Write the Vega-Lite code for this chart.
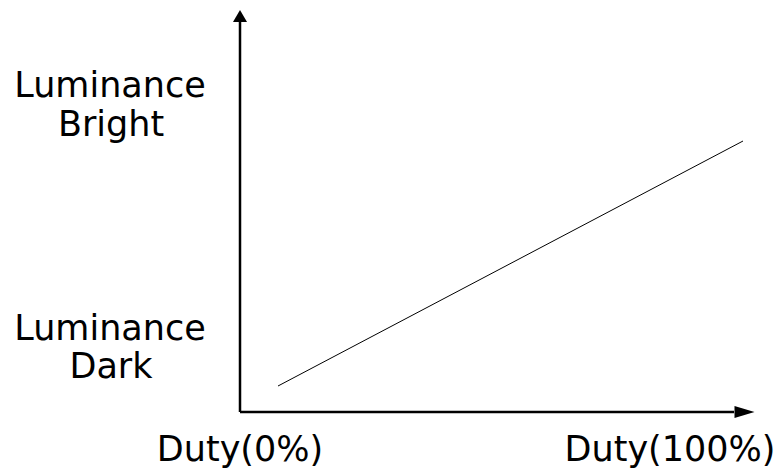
{
  "$schema": "https://vega.github.io/schema/vega-lite/v6.json",
  "width": 780,
  "height": 470,
  "padding": 0,
  "autosize": {"type": "fit", "contains": "padding"},
  "background": "white",
  "config": {"view": {"stroke": null}},
  "datasets": {
    "curve": [
      {"duty": 7.6, "lum": 6.5},
      {"duty": 100.6, "lum": 67.75}
    ],
    "axes": [
      {"x": 0, "y": 0, "x2": 98.8, "y2": 0},
      {"x": 0, "y": 0, "x2": 0, "y2": 97.5}
    ],
    "heads": [
      {"x": 100.9, "y": 0, "dir": "right"},
      {"x": 0, "y": 99, "dir": "up"}
    ],
    "labels": [
      {"x": -26, "y": 78.75, "text": "Luminance"},
      {"x": -25.8, "y": 69, "text": "Bright"},
      {"x": -26, "y": 18, "text": "Luminance"},
      {"x": -25.8, "y": 8.5, "text": "Dark"},
      {"x": 0, "y": -12.25, "text": "Duty(0%)"},
      {"x": 86, "y": -12.25, "text": "Duty(100%)"}
    ]
  },
  "layer": [
    {
      "data": {"name": "axes"},
      "mark": {"type": "rule", "color": "black", "strokeWidth": 2.5},
      "encoding": {
        "x": {"field": "x", "type": "quantitative", "scale": {"domain": [-48, 108], "nice": false, "zero": false}, "axis": null},
        "y": {"field": "y", "type": "quantitative", "scale": {"domain": [-14.5, 103], "nice": false, "zero": false}, "axis": null},
        "x2": {"field": "x2"},
        "y2": {"field": "y2"}
      }
    },
    {
      "data": {"name": "heads"},
      "transform": [{"filter": "datum.dir === 'right'"}],
      "mark": {"type": "point", "shape": "M-1,-0.6L1,0L-1,0.6Z", "size": 400, "filled": true, "color": "black", "opacity": 1},
      "encoding": {
        "x": {"field": "x", "type": "quantitative"},
        "y": {"field": "y", "type": "quantitative"}
      }
    },
    {
      "data": {"name": "heads"},
      "transform": [{"filter": "datum.dir === 'up'"}],
      "mark": {"type": "point", "shape": "M-1.17,1L0,-1L1.17,1Z", "size": 144, "filled": true, "color": "black", "opacity": 1},
      "encoding": {
        "x": {"field": "x", "type": "quantitative"},
        "y": {"field": "y", "type": "quantitative"}
      }
    },
    {
      "data": {"name": "curve"},
      "mark": {"type": "line", "color": "black", "strokeWidth": 1},
      "encoding": {
        "x": {"field": "duty", "type": "quantitative"},
        "y": {"field": "lum", "type": "quantitative"}
      }
    },
    {
      "data": {"name": "labels"},
      "mark": {"type": "text", "font": "DejaVu Sans", "fontSize": 35, "align": "center", "baseline": "alphabetic", "color": "black"},
      "encoding": {
        "x": {"field": "x", "type": "quantitative"},
        "y": {"field": "y", "type": "quantitative"},
        "text": {"field": "text"}
      }
    }
  ]
}
